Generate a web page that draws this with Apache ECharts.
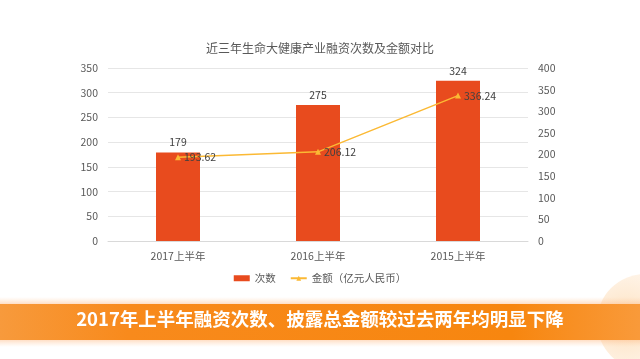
<!DOCTYPE html>
<html><head><meta charset="utf-8">
<script src="https://cdn.jsdelivr.net/npm/echarts@6/dist/echarts.min.js"></script>
<style>html,body{margin:0;padding:0;background:#fff}#c{width:640px;height:359px}</style>
</head><body><div id="c"></div>
<script>
const categories = ['2017上半年', '2016上半年', '2015上半年'];
const countValues = [179, 275, 324];
const amountValues = [193.62, 206.12, 336.24];
const titleText = '近三年生命大健康产业融资次数及金额对比';
const bannerText = '2017年上半年融资次数、披露总金额较过去两年均明显下降';
const seriesNames = ['次数', '金额（亿元人民币）'];

const font = '"Noto Sans CJK SC", "Noto Sans", sans-serif';
const chart = echarts.init(document.getElementById('c'), null, {renderer: 'canvas'});
chart.setOption({
  backgroundColor: '#fff',
  animation: false,
  textStyle: {fontFamily: font},
  title: {
    text: titleText, left: 'center', top: 37,
    textStyle: {fontSize: 12, fontWeight: 'normal', color: '#595959', fontFamily: font}
  },
  legend: {
    data: [{name: seriesNames[0], icon: 'rect'}, {name: seriesNames[1]}],
    left: 'center', top: 268, itemGap: 14, itemWidth: 16, itemHeight: 6,
    textStyle: {fontSize: 10.5, color: '#595959', fontFamily: font}
  },
  grid: {left: 108, right: 112, top: 68, bottom: 118},
  xAxis: {
    type: 'category', data: categories,
    axisLine: {lineStyle: {color: '#d9d9d9'}}, axisTick: {show: false},
    axisLabel: {color: '#595959', fontSize: 10.5, margin: 10, fontFamily: font}
  },
  yAxis: [
    {type: 'value', min: 0, max: 350, interval: 50,
     axisLine: {show: false}, axisTick: {show: false},
     splitLine: {lineStyle: {color: '#e6e6e6'}},
     axisLabel: {color: '#595959', fontSize: 10.5, margin: 10, fontFamily: font}},
    {type: 'value', min: 0, max: 400, interval: 50,
     axisLine: {show: false}, axisTick: {show: false}, splitLine: {show: false},
     axisLabel: {color: '#595959', fontSize: 10.5, margin: 10, fontFamily: font}}
  ],
  series: [
    {name: seriesNames[0], type: 'bar', data: countValues, barWidth: 44,
     itemStyle: {color: '#E84B1E'},
     label: {show: true, position: 'top', distance: 5, color: '#404040', fontSize: 10.5, fontFamily: font}},
    {name: seriesNames[1], type: 'line', yAxisIndex: 1, data: amountValues,
     symbol: 'triangle', symbolSize: 6,
     lineStyle: {color: '#FBB934', width: 1.5}, itemStyle: {color: '#FBB934'},
     label: {show: true, position: 'right', distance: 3, color: '#404040', fontSize: 10.5, fontFamily: font}}
  ],
  graphic: [
    {type: 'circle', shape: {cx: 645, cy: 322, r: 48}, silent: true,
     style: {fill: new echarts.graphic.RadialGradient(0.3, 0.5, 0.8, [
       {offset: 0, color: 'rgba(252,215,170,0.8)'}, {offset: 1, color: 'rgba(255,235,215,0.25)'}])}},
    {type: 'rect', shape: {x: 0, y: 297, width: 640, height: 7}, silent: true,
     style: {fill: new echarts.graphic.LinearGradient(0, 0, 0, 1, [
       {offset: 0, color: 'rgba(255,210,170,0)'}, {offset: 1, color: 'rgba(255,190,140,0.5)'}])}},
    {type: 'rect', shape: {x: 0, y: 304, width: 640, height: 36}, silent: true,
     style: {fill: new echarts.graphic.LinearGradient(0, 0, 1, 0, [
       {offset: 0, color: '#F79A3C'}, {offset: 0.2, color: '#F88A1C'},
       {offset: 0.8, color: '#F7860F'}, {offset: 1, color: '#F99A3A'}])}},
    {type: 'rect', shape: {x: 0, y: 340, width: 640, height: 7}, silent: true,
     style: {fill: new echarts.graphic.LinearGradient(0, 0, 0, 1, [
       {offset: 0, color: 'rgba(255,190,140,0.5)'}, {offset: 1, color: 'rgba(255,210,170,0)'}])}},
    {type: 'text', left: 'center', top: 310, silent: true,
     style: {text: bannerText, fill: '#ffffff', font: 'bold 18.5px "Noto Sans CJK SC", sans-serif'}}
  ]
});
</script></body></html>
